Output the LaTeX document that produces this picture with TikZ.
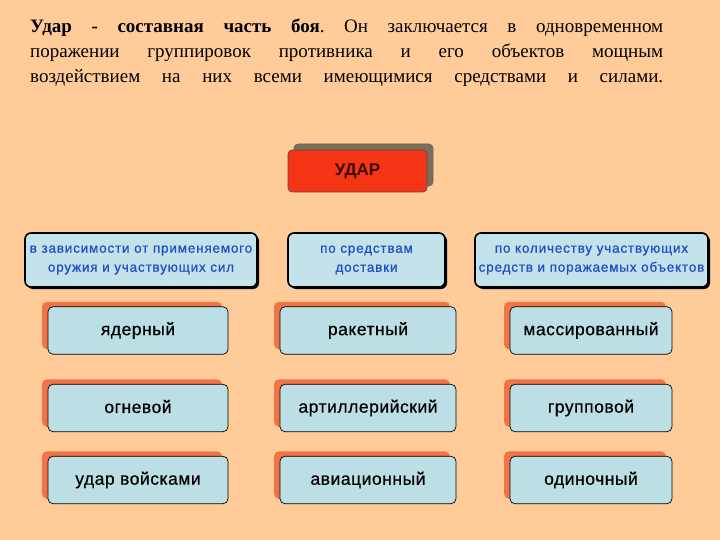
\documentclass[tikz,border=0pt]{standalone}
\usepackage{fontspec}
\setmainfont{Liberation Serif}
\setsansfont{Liberation Sans}
\newfontfamily\leafsans[LetterSpace=3,FakeBold=0.6]{Liberation Sans}
\newfontfamily\catsans[LetterSpace=6,FakeBold=0.8]{Liberation Sans}
\usetikzlibrary{shadows}
\definecolor{bgpeach}{HTML}{FFCC99}
\definecolor{udarred}{HTML}{F53516}
\definecolor{udarshadow}{HTML}{7A6E58}
\definecolor{leafblue}{HTML}{BCDFE6}
\definecolor{leafshadow}{HTML}{F27446}
\definecolor{catblue}{HTML}{C4E2EA}
\definecolor{cattext}{HTML}{1F50C4}
\definecolor{udartext}{HTML}{3A0A00}
\tikzset{
  titleline/.style={anchor=base west, inner sep=0pt, text width=633pt, align=justify, font=\frenchspacing\fontsize{19}{25}\selectfont},
  udarbox/.style={rounded corners=4pt, fill=udarred, draw=black!70, line width=0.6pt,
    minimum width=139pt, minimum height=42pt, inner sep=0pt,
    font=\sffamily\bfseries\fontsize{17}{20}\selectfont, text=udartext,
    general shadow={fill=udarshadow, draw=black!60, shadow xshift=6pt, shadow yshift=6pt}},
  catbox/.style={rounded corners=6pt, fill=catblue, draw=black, line width=1.6pt,
    minimum height=54pt, inner sep=0pt, align=center, text=cattext,
    font=\catsans\fontsize{13.5}{19}\selectfont,
    general shadow={fill=black, shadow xshift=2pt, shadow yshift=-2pt}},
  leafbox/.style={rounded corners=5pt, fill=leafblue, draw=black, line width=0.7pt,
    minimum height=47.5pt, inner sep=0pt, font=\leafsans\fontsize{17.5}{20}\selectfont,
    general shadow={fill=leafshadow, shadow xshift=-6pt, shadow yshift=5pt}},
}
\begin{document}
\begin{tikzpicture}[x=1pt,y=-1pt]
\fill[bgpeach] (0,0) rectangle (720,540);
\useasboundingbox (0,0) rectangle (720,540);
\node[titleline] (t1) at (30,33) {\parfillskip=0pt \textbf{Удар - составная часть боя}. Он заключается в одновременном\par};
\node[titleline] (t2) at (30,58) {\parfillskip=0pt поражении группировок противника и его объектов мощным\par};
\node[titleline] (t3) at (30,83) {\parfillskip=0pt воздействием на них всеми имеющимися средствами и силами.\par};
\node[udarbox] (udar) at (357.5,171) {УДАР};
\node[catbox, minimum width=232pt] (c1) at (141,260) {в зависимости от применяемого\\оружия и участвующих сил};
\node[catbox, minimum width=157pt] (c2) at (366.5,260) {по средствам\\доставки};
\node[catbox, minimum width=233pt] (c3) at (591.5,260) {по количеству участвующих\\средств и поражаемых объектов};
\node[leafbox, minimum width=180pt] (l11) at (138,330.5) {ядерный};
\node[leafbox, minimum width=176pt] (l21) at (368,330.5) {ракетный};
\node[leafbox, minimum width=162pt] (l31) at (591,330.5) {массированный};
\node[leafbox, minimum width=180pt] (l12) at (138,408) {\raisebox{3pt}{огневой}};
\node[leafbox, minimum width=176pt] (l22) at (368,408) {артиллерийский};
\node[leafbox, minimum width=162pt] (l32) at (591,408) {групповой};
\node[leafbox, minimum width=180pt] (l13) at (138,480) {удар войсками};
\node[leafbox, minimum width=176pt] (l23) at (368,480) {авиационный};
\node[leafbox, minimum width=162pt] (l33) at (591,480) {одиночный};
\end{tikzpicture}
\end{document}
